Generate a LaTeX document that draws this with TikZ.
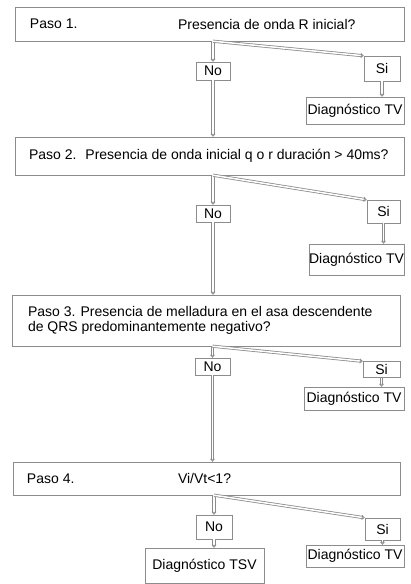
\documentclass[tikz,border=0pt]{standalone}
\usepackage{fontspec}
\setmainfont{Liberation Sans}
\usepackage{xcolor}
\usepackage{tikz}
\usetikzlibrary{calc, arrows.meta, positioning}
\definecolor{boxgray}{RGB}{140,140,140}
\tikzset{
    pasonode/.style = {draw=boxgray, rectangle, fill=white, inner sep = 0em, node distance=0em, minimum width=389pt},
    rectanglenode/.style = {draw=boxgray, rectangle, inner sep = 0em, node distance=0em, font=\fontsize{14pt}{16pt}\selectfont},
    textnode/.style  = {draw=none, fill=none, rectangle, inner sep = 0em, anchor=west,
      node distance=0em, font=\fontsize{14pt}{15.5pt}\selectfont},
    connect/.style = {draw=boxgray, double, double distance=1.5pt, line width=0.8pt,
      -{Triangle[open, length=3pt, width=5pt]}},
    every text node part/.style={align=left}
}

\begin{document}
\begin{tikzpicture}
    \useasboundingbox (0,0) rectangle (411pt,-584pt);

    % paso 1
    \node [name=paso1, pasonode, minimum height=34pt] at (209.5pt,-24pt) {};
    \node [name=t1a, textnode] at ([xshift=15pt]paso1.west) {Paso 1.};
    \node [name=t1b, textnode] at ([xshift=163pt]paso1.west) {Presencia de onda R inicial?};
    \node [name=no1, rectanglenode, minimum width=34pt, minimum height=18pt,
        below of = paso1, xshift=3.5pt, yshift=-47pt] {No};
    \node [name=si1, rectanglenode, minimum width=36pt, minimum height=25pt,
        below of = paso1, xshift=172.5pt, yshift=-44.5pt] {Si};
    \node [name=tv1, rectanglenode, minimum width=98pt, minimum height=27pt,
        below of = paso1, xshift=145.5pt, yshift=-86.5pt] {Diagnóstico TV};

    % paso 2
    \node [name=paso2, pasonode, minimum height=38pt, below of = paso1, yshift=-132pt] {};
    \node [name=t2, textnode] at ([xshift=14pt]paso2.west) {Paso 2.\hspace{9pt}Presencia de onda inicial q o r duración > 40ms?};
    \node [name=no2, rectanglenode, minimum width=34pt, minimum height=17pt,
        below of = paso2, xshift=3.5pt, yshift=-57.5pt] {No};
    \node [name=si2, rectanglenode, minimum width=33pt, minimum height=23pt,
        below of = paso2, xshift=174pt, yshift=-55.5pt] {Si};
    \node [name=tv2, rectanglenode, minimum width=95pt, minimum height=31pt,
        below of = paso2, xshift=147pt, yshift=-103.5pt] {Diagnóstico TV};

    % paso 3
    \node [name=paso3, pasonode, minimum width=388pt, minimum height=51pt,
        below of = paso1, xshift=-3.5pt, yshift=-296.5pt] {};
    \node [name=t3, textnode] at ([xshift=16pt]paso3.west) {Paso 3. Presencia de melladura en el asa descendente\\de QRS predominantemente negativo?};
    \node [name=no3, rectanglenode, minimum width=35pt, minimum height=17pt,
        below of = paso3, xshift=6.5pt, yshift=-46pt] {No};
    \node [name=si3, rectanglenode, minimum width=37pt, minimum height=16pt,
        below of = paso3, xshift=175.5pt, yshift=-49pt] {Si};
    \node [name=tv3, rectanglenode, minimum width=100pt, minimum height=23pt,
        below of = paso3, xshift=148pt, yshift=-78pt] {Diagnóstico TV};

    % paso 4
    \node [name=paso4, pasonode, minimum width=387pt, minimum height=33pt,
        below of = paso1, xshift=-3pt, yshift=-454.5pt] {};
    \node [name=t4a, textnode] at ([xshift=14pt]paso4.west) {Paso 4.};
    \node [name=t4b, textnode] at ([xshift=165pt]paso4.west) {Vi/Vt<1?};
    \node [name=no4, rectanglenode, minimum width=36pt, minimum height=24pt,
        below of = paso4, xshift=7.5pt, yshift=-48.5pt] {No};
    \node [name=si4, rectanglenode, minimum width=35pt, minimum height=22pt,
        below of = paso4, xshift=176pt, yshift=-50.5pt] {Si};
    \node [name=tv4, rectanglenode, minimum width=98pt, minimum height=22pt,
        below of = paso4, xshift=148.5pt, yshift=-77.5pt] {Diagnóstico TV};
    \node [name=tsv, rectanglenode, minimum width=119pt, minimum height=35pt,
        below of = paso4, xshift=-2pt, yshift=-87pt] {Diagnóstico TSV};

    \draw [connect] (no1 |- paso1.south) -- (no1);
    \draw [connect] (no1 |- paso1.south) -- (si1.north west);
    \draw [connect] (si1) -- (si1 |- tv1.north);
    \draw [connect] (no1) -- (no1 |- paso2.north);

    \draw [connect] (no2 |- paso2.south) -- (no2);
    \draw [connect] (no2 |- paso2.south) -- (si2.north west);
    \draw [connect] (si2) -- (si2 |- tv2.north);
    \draw [connect] (no2) -- (no2 |- paso3.north);

    \draw [connect] (no3 |- paso3.south) -- (no3);
    \draw [connect] (no3 |- paso3.south) -- (si3.north west);
    \draw [connect] (si3) -- (si3 |- tv3.north);
    \draw [connect] (no3) -- (no3 |- paso4.north);

    \draw [connect] (no4 |- paso4.south) -- (no4);
    \draw [connect] (no4 |- paso4.south) -- (si4.north west);
    \draw [connect] (si4) -- (si4 |- tv4.north);
    \draw [connect] (no4) -- (no4 |- tsv.north);
\end{tikzpicture}
\end{document}
